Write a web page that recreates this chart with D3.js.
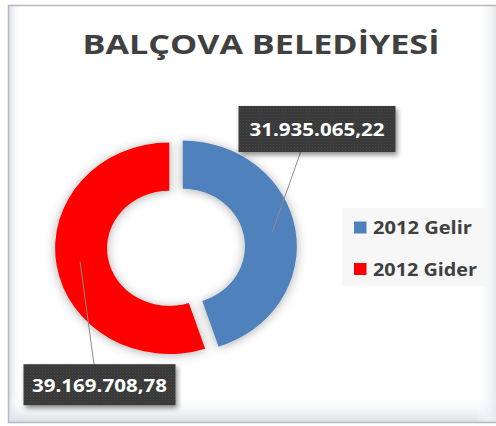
<!DOCTYPE html>
<html><head><meta charset="utf-8">
<script src="https://cdn.jsdelivr.net/npm/d3@7"></script>
<style>
html,body{margin:0;padding:0;background:#fff;}
svg{display:block;}
</style></head>
<body>
<svg id="chart" width="496" height="426"></svg>
<script>
// ---- data ----
const title = "BALÇOVA BELEDİYESİ";
const categories = ["2012 Gelir", "2012 Gider"];
const values = [31935065.22, 39169708.78];
const colors = ["#4f81bd", "#ff0000"];

// ---- layout ----
const W = 496, H = 426;
const cx = 176, cy = 247.3, sx = 1.08;
const outerR = 105.7, innerR = 57.6, explode = 6.3;
const labelBoxes = [{cx: 317, cy: 129, w: 157, h: 46}, {cx: 99.5, cy: 384.7, w: 152, h: 41}];

const svg = d3.select("#chart");
const defs = svg.append("defs");

// inner glow gradients for the panel
const gl = defs.append("linearGradient").attr("id", "gLeft").attr("x1", 0).attr("x2", 1).attr("y1", 0).attr("y2", 0);
gl.append("stop").attr("offset", 0).attr("stop-color", "#d5dde8").attr("stop-opacity", 1);
gl.append("stop").attr("offset", 1).attr("stop-color", "#ffffff").attr("stop-opacity", 0);
const gb = defs.append("linearGradient").attr("id", "gBottom").attr("x1", 0).attr("x2", 0).attr("y1", 0).attr("y2", 1);
gb.append("stop").attr("offset", 0).attr("stop-color", "#ffffff").attr("stop-opacity", 0);
gb.append("stop").attr("offset", 1).attr("stop-color", "#d5dde8").attr("stop-opacity", 1);
const gr = defs.append("linearGradient").attr("id", "gRight").attr("x1", 0).attr("x2", 1).attr("y1", 0).attr("y2", 0);
gr.append("stop").attr("offset", 0).attr("stop-color", "#ffffff").attr("stop-opacity", 0);
gr.append("stop").attr("offset", 1).attr("stop-color", "#e6e9ee").attr("stop-opacity", 1);

// donut shadow
const sh = defs.append("filter").attr("id", "dshadow").attr("x", "-30%").attr("y", "-30%").attr("width", "160%").attr("height", "160%");
sh.append("feDropShadow").attr("dx", 0).attr("dy", 1).attr("stdDeviation", 5).attr("flood-color", "#000").attr("flood-opacity", 0.32);

const bsh = defs.append("filter").attr("id", "bshadow").attr("x", "-20%").attr("y", "-30%").attr("width", "140%").attr("height", "170%");
bsh.append("feDropShadow").attr("dx", 2).attr("dy", 3).attr("stdDeviation", 2.5).attr("flood-color", "#000").attr("flood-opacity", 0.45);

// textured dark label fill
const pat = defs.append("pattern").attr("id", "tex").attr("width", 3).attr("height", 3).attr("patternUnits", "userSpaceOnUse");
pat.append("rect").attr("width", 3).attr("height", 3).attr("fill", "#383838");
pat.append("rect").attr("x", 0).attr("y", 0).attr("width", 1).attr("height", 1).attr("fill", "#4a4a4a");
pat.append("rect").attr("x", 1.5).attr("y", 1.5).attr("width", 1).attr("height", 1).attr("fill", "#444");

// panel
svg.append("rect").attr("x", 0).attr("y", 0).attr("width", W).attr("height", H).attr("fill", "#fff");
svg.append("rect").attr("x", 8).attr("y", 5).attr("width", 14).attr("height", 418).attr("fill", "url(#gLeft)");
svg.append("rect").attr("x", 8).attr("y", 395).attr("width", 488).attr("height", 28).attr("fill", "url(#gBottom)");
svg.append("rect").attr("x", 476).attr("y", 5).attr("width", 20).attr("height", 418).attr("fill", "url(#gRight)");
svg.append("path").attr("d", "M496,5.5H8.5V422.5H496")
  .attr("fill", "none").attr("stroke", "#b8b8b8").attr("stroke-width", 1.5);

// title
svg.append("text").attr("x", 261).attr("y", 53.5).attr("text-anchor", "middle")
  .attr("font-family", "'Open Sans', sans-serif").attr("font-weight", 700).attr("font-size", 27.5)
  .attr("fill", "#404040").attr("textLength", 357).attr("lengthAdjust", "spacingAndGlyphs").text(title);

// donut
const pie = d3.pie().sort(null).value(d => d);
const arcs = pie(values);
const arc = d3.arc().innerRadius(innerR).outerRadius(outerR);
const midArc = d3.arc().innerRadius((innerR + outerR) / 2 + 2).outerRadius((innerR + outerR) / 2 + 2);

const donut = svg.append("g").attr("transform", `translate(${cx},${cy}) scale(${sx},1)`).attr("filter", "url(#dshadow)");
function offset(d) {
  const a = (d.startAngle + d.endAngle) / 2;
  return [Math.sin(a) * explode, -Math.cos(a) * explode];
}
donut.selectAll("path").data(arcs).join("path")
  .attr("transform", d => { const o = offset(d); return `translate(${o[0]},${o[1]})`; })
  .attr("d", arc)
  .attr("fill", (d, i) => colors[i]);

// labels
const fmt = d3.formatLocale({decimal: ",", thousands: ".", grouping: [3], currency: ["", ""]}).format(",.2f");
arcs.forEach((d, i) => {
  const o = offset(d);
  const c = midArc.centroid(d);
  const px = cx + (c[0] + o[0]) * sx, py = cy + c[1] + o[1];
  const b = labelBoxes[i];
  const ey = py < b.cy ? b.cy + b.h / 2 : b.cy - b.h / 2;
  svg.append("line").attr("x1", px).attr("y1", py).attr("x2", b.cx).attr("y2", ey)
    .attr("stroke", "#8c8c8c").attr("stroke-width", 1);
  svg.append("rect").attr("x", b.cx - b.w / 2).attr("y", b.cy - b.h / 2).attr("width", b.w).attr("height", b.h)
    .attr("fill", "url(#tex)").attr("filter", "url(#bshadow)");
  svg.append("text").attr("x", b.cx).attr("y", b.cy + 6.8).attr("text-anchor", "middle")
    .attr("font-family", "'Open Sans', sans-serif").attr("font-weight", 700).attr("font-size", 18.5)
    .attr("fill", "#fff").attr("textLength", 135).attr("lengthAdjust", "spacingAndGlyphs")
    .text(fmt(values[i]));
});

// legend
svg.append("rect").attr("x", 342).attr("y", 208).attr("width", 146).attr("height", 78).attr("fill", "#f7f7f7");
const leg = svg.append("g");
categories.forEach((c, i) => {
  const y = 227.5 + i * 41.5;
  leg.append("rect").attr("x", 354).attr("y", y - 6).attr("width", 12.5).attr("height", 12).attr("fill", colors[i]);
  leg.append("text").attr("x", 373).attr("y", y + 6.8)
    .attr("font-family", "'Open Sans', sans-serif").attr("font-weight", 700).attr("font-size", 17.5)
    .attr("fill", "#404040").attr("textLength", i === 0 ? 99 : 104).attr("lengthAdjust", "spacingAndGlyphs").text(c);
});
</script>
</body></html>
